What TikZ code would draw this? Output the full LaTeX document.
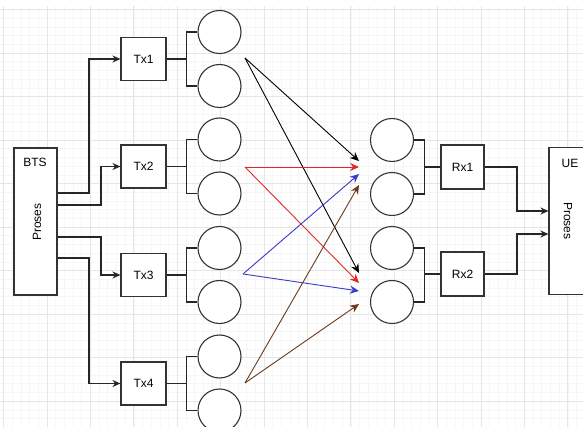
\documentclass[tikz,border=0pt]{standalone}
\usepackage{fontspec}
\setmainfont{Liberation Sans}
\usetikzlibrary{arrows.meta,calc}
\definecolor{myred}{HTML}{E02828}
\definecolor{myblue}{HTML}{3A3ACC}
\definecolor{mybrown}{HTML}{6B3A1E}
\definecolor{gridmajor}{HTML}{E6E6E6}
\definecolor{gridminor}{HTML}{F6F6F6}
\definecolor{edge}{HTML}{333333}
\begin{document}
\begin{tikzpicture}[x=1pt,y=-1pt,
  font=\fontsize{12}{14}\selectfont,
  box/.style={draw=edge,line width=1.1pt,fill=white,minimum width=45pt,minimum height=43pt,inner sep=0pt},
  ant/.style={draw=edge,line width=1.1pt,fill=white,circle,minimum size=43pt,inner sep=0pt},
  big/.style={draw=edge,line width=1.1pt,fill=white,minimum width=43pt,minimum height=147pt,inner sep=0pt},
  wire/.style={draw=black!85,line width=1.1pt},
  arr/.style={wire,-{Stealth[length=8pt,width=7pt]}},
  ray/.style={line width=0.9pt,-{Stealth[length=9pt,width=8pt]}}]
\useasboundingbox (0,0) rectangle (583,427);
\fill[white] (0,0) rectangle (583,427);
% grid
\foreach \i in {0,...,68} {\draw[gridminor,line width=0.4pt] (3.5+8.68*\i,6) -- (3.5+8.68*\i,427);}
\foreach \i in {0,...,48} {\draw[gridminor,line width=0.4pt] (0,9.5+8.7*\i) -- (583,9.5+8.7*\i);}
\foreach \i in {0,...,13} {\draw[gridmajor,line width=0.6pt] (3.5+43.4*\i,6) -- (3.5+43.4*\i,427);}
\foreach \i in {0,...,9} {\draw[gridmajor,line width=0.6pt] (0,9.5+43.5*\i) -- (583,9.5+43.5*\i);}

% BTS
\node[big] (bts) at (35.5,221.5) {};
\node (btsl) at (35,162) {BTS};
\node[rotate=90] (btsp) at (37,222) {Proses};
% UE
\node[big] (ue) at (570.5,221) {};
\node (uel) at (570,163) {UE};
\node[rotate=-90] (uep) at (568,221) {Proses};

% Tx boxes
\node[box] (tx1) at (143.5,59) {Tx1};
\node[box] (tx2) at (143.5,166.5) {Tx2};
\node[box] (tx3) at (143.5,275) {Tx3};
\node[box] (tx4) at (143.5,383.5) {Tx4};

% Tx antennas
\foreach \n/\y in {1/32,2/86,3/139.5,4/193.5,5/248,6/302,7/356.5,8/410.5}
  \node[ant] (a\n) at (219.5,\y) {};

% Rx antennas
\foreach \n/\y in {1/140,2/194,3/248,4/302}
  \node[ant] (r\n) at (392,\y) {};

% Rx boxes
\node[box,minimum width=43pt,minimum height=44pt] (rx1) at (462.5,167) {Rx1};
\node[box,minimum width=43pt,minimum height=44pt] (rx2) at (462.5,274) {Rx2};

% BTS -> Tx
\draw[arr] (bts.east |- {(0,193)}) -- (89,193) |- (tx1.west);
\draw[arr] (bts.east |- {(0,205)}) -- (101,205) |- (tx2.west);
\draw[arr] (bts.east |- {(0,237)}) -- (101,237) |- (tx3.west);
\draw[arr] (bts.east |- {(0,258)}) -- (89,258) |- (tx4.west);

% Tx -> antennas
\foreach \t/\p/\q in {tx1/a1/a2,tx2/a3/a4,tx3/a5/a6,tx4/a7/a8}{
  \draw[wire] (\p.west) -- ++(-11,0) |- (\q.west);
  \draw[wire] (\t.east) -- (\t.east -| {(187,0)});
}

% Rx antennas -> Rx
\foreach \t/\p/\q in {rx1/r1/r2,rx2/r3/r4}{
  \draw[wire] (\p.east) -- ++(10,0) |- (\q.east);
  \draw[wire] (\t.west) -- (\t.west -| {(424,0)});
}

% Rx -> UE
\draw[arr] (rx1.east) -- (517,167) |- (ue.west |- {(0,211)});
\draw[arr] (rx2.east) -- (517,274) |- (ue.west |- {(0,234)});

% rays
\coordinate (sk) at (245,58);
\coordinate (sr) at (245,167);
\coordinate (sb) at (243,274);
\coordinate (sn) at (245,383);
\coordinate (ek1) at (359,161);
\coordinate (ek2) at (359,273);
\coordinate (er1) at (359,167);
\coordinate (er2) at (359,283);
\coordinate (eb1) at (359,174);
\coordinate (eb2) at (359,291);
\coordinate (en1) at (359,185);
\coordinate (en2) at (359,304);
\draw[ray,black] (sk) -- (ek1);
\draw[ray,black] (sk) -- (ek2);
\draw[ray,myred] (sr) -- (er1);
\draw[ray,myred] (sr) -- (er2);
\draw[ray,myblue] (sb) -- (eb1);
\draw[ray,myblue] (sb) -- (eb2);
\draw[ray,mybrown] (sn) -- (en1);
\draw[ray,mybrown] (sn) -- (en2);
\end{tikzpicture}
\end{document}
